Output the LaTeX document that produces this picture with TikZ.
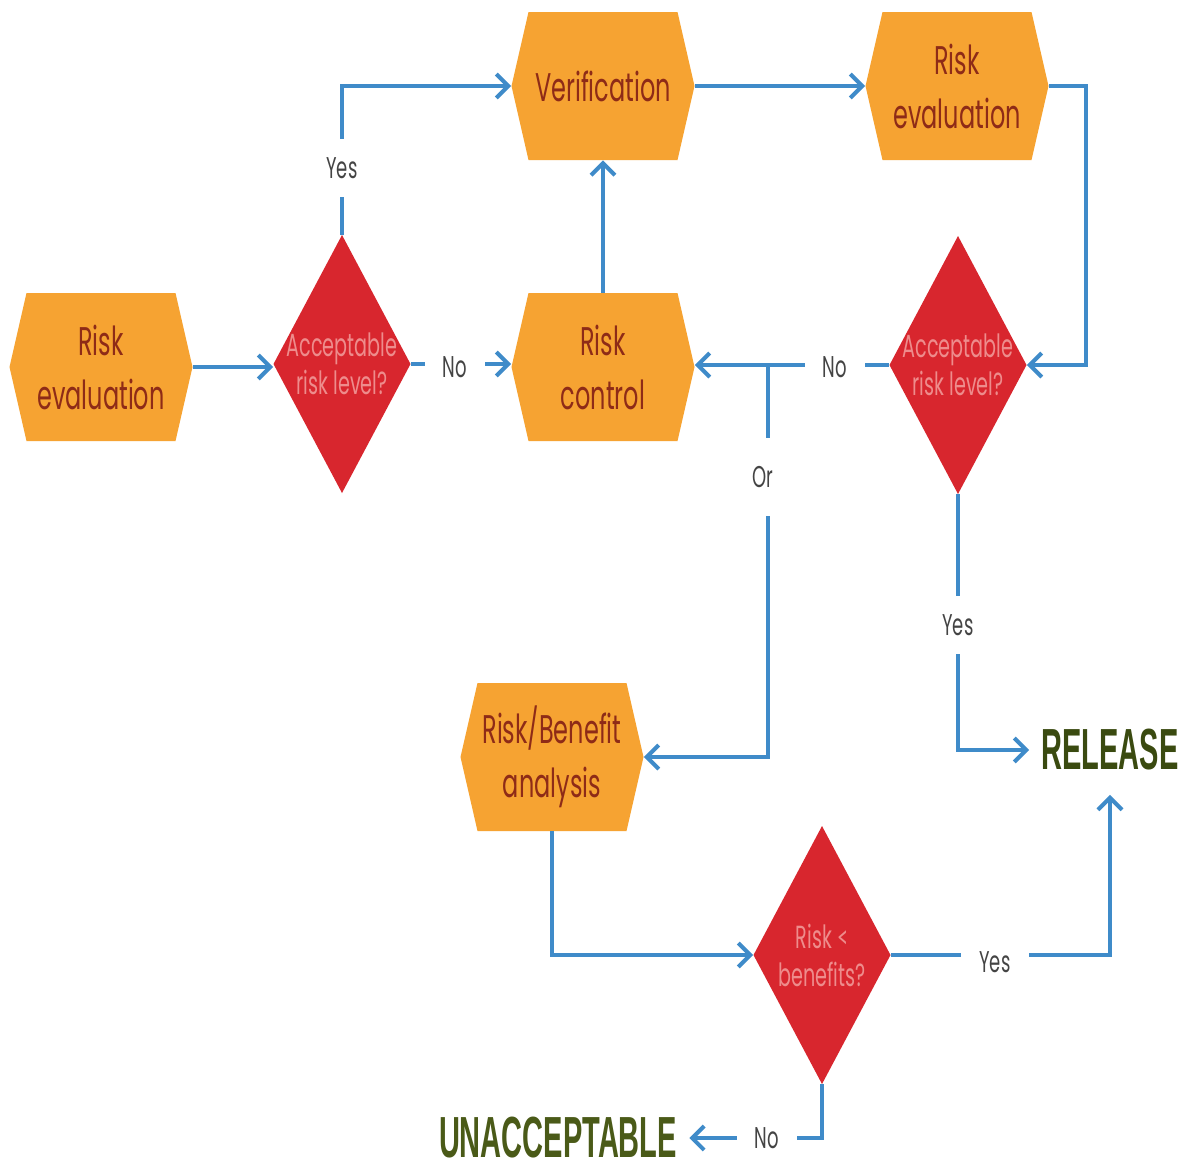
\documentclass[tikz,border=0pt]{standalone}
\usepackage{fontspec}
\usetikzlibrary{arrows.meta}
\newfontfamily\hexfont[FakeStretch=0.6]{Poppins}
\newfontfamily\ltfont[FakeStretch=0.6]{Lato}
\newfontfamily\bigfont[FakeStretch=0.5]{Liberation Sans}
\definecolor{hexorange}{HTML}{F6A332}
\definecolor{hextxt}{HTML}{8E2B17}
\definecolor{decred}{HTML}{D8262E}
\definecolor{dectxt}{HTML}{EE8C8C}
\definecolor{flowblue}{HTML}{3F8BC9}
\definecolor{lblgray}{HTML}{444444}
\definecolor{relgreen}{HTML}{3A4A10}
\definecolor{unagreen}{HTML}{4A5A18}
\tikzset{
 hexbox/.style={rectangle, minimum width=91.5pt, minimum height=74pt, inner sep=0pt, align=center,
   text=hextxt, font=\hexfont\fontsize{20}{27}\selectfont,
   path picture={\fill[hexorange] (path picture bounding box.west)
      -- ([xshift=8.5pt]path picture bounding box.north west)
      -- ([xshift=-8.5pt]path picture bounding box.north east)
      -- (path picture bounding box.east)
      -- ([xshift=-8.5pt]path picture bounding box.south east)
      -- ([xshift=8.5pt]path picture bounding box.south west) -- cycle;}},
 decision/.style={rectangle, minimum width=68.5pt, minimum height=129pt, inner sep=0pt, align=center,
   text=dectxt, font=\hexfont\fontsize{16}{19}\selectfont,
   path picture={\fill[decred] (path picture bounding box.west)
      -- (path picture bounding box.north)
      -- (path picture bounding box.east)
      -- (path picture bounding box.south) -- cycle;}},
 flow/.style={draw=flowblue, line width=2pt, -{Straight Barb[length=6pt,width=12pt]}},
 lbl/.style={fill=white, text=lblgray, font=\hexfont\fontsize{15}{18}\selectfont, inner sep=9pt},
 final/.style={font=\bigfont\bfseries\fontsize{29}{30}\selectfont, inner xsep=6pt, inner ysep=2pt}
}
\begin{document}
\begin{tikzpicture}[x=0.5pt,y=-0.5pt]
\fill[white] (0,0) rectangle (1182,1169);
\useasboundingbox (0,0) rectangle (1182,1169);

\node[hexbox] (re1) at (101,367) {Risk\\evaluation};
\node[decision] (d1) at (342,364) {Acceptable\\risk level?};
\node[hexbox] (rc) at (603,367) {Risk\\control};
\node[hexbox] (ver) at (603,86) {Verification};
\node[hexbox] (re2) at (957,86) {Risk\\evaluation};
\node[decision] (d2) at (958,365) {Acceptable\\risk level?};
\node[hexbox] (rb) at (552,757) {Risk/Benefit\\analysis};
\node[decision] (d3) at (822,955) {Risk {\ltfont<}\\benefits?};
\node[final, text=relgreen, inner ysep=12pt] (rel) at (1110,750) {RELEASE};
\node[final, text=unagreen] (una) at (558,1138) {UNACCEPTABLE};
\coordinate (j) at (768,367);

\draw[flow] (re1.east) -- (re1.east -| d1.west);
\draw[flow] (d1.north) |- (ver.west);
\draw[flow] (d1.east) -- (d1.east -| rc.west);
\draw[flow] (rc.north) -- (ver.south);
\draw[flow] (ver.east) -- (re2.west);
\draw[flow] (re2.east) -- ++(37,0) |- (d2.east);
\draw[flow] (d2.west) -- (d2.west -| rc.east);
\draw[flow] (j) |- (rb.east);
\draw[flow] (d2.south) |- (rel.west);
\draw[flow] (rb.south) |- (d3.west);
\draw[flow] (d3.east) -| (rel.south);
\draw[flow] (d3.south) |- (una.east);

\node[lbl] (l1) at (342,168) {Yes};
\node[lbl] (l2) at (455,367) {No};
\node[lbl] (l3) at (835,367) {No};
\node[lbl, inner ysep=14pt] (l4) at (763,477) {Or};
\node[lbl] (l5) at (958,625) {Yes};
\node[lbl] (l6) at (995,962) {Yes};
\node[lbl] (l7) at (767,1138) {No};
\end{tikzpicture}
\end{document}
